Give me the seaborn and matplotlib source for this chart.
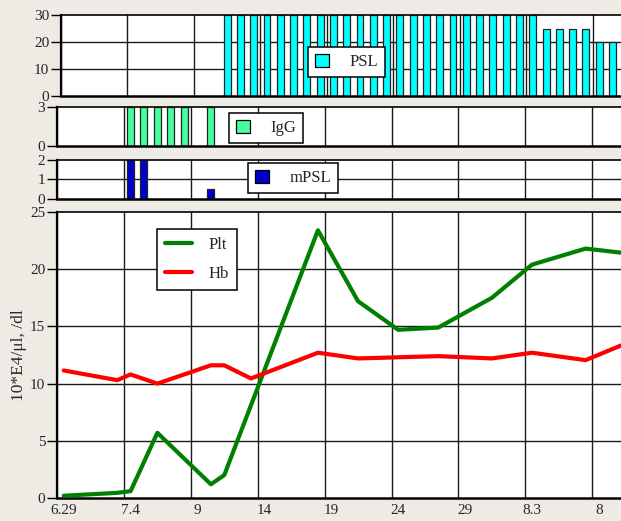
import matplotlib
matplotlib.use("Agg")
import matplotlib.pyplot as plt
from matplotlib.patches import Patch
from matplotlib.lines import Line2D
import seaborn as sns
import pandas as pd

# ---- data (day index counted from 6/29) ----
tick_days = [0, 5, 10, 15, 20, 25, 30, 35, 40]
tick_labels = ["6.29", "7.4", "9", "14", "19", "24", "29", "8.3", "8"]

psl_days = [12, 13, 14, 15, 16, 17, 18, 19, 20, 21, 22, 23, 24, 25, 26, 27,
            28, 29, 30, 31, 32, 33, 34, 35, 36, 37, 38, 39, 40, 41, 42]
psl_vals = [30, 30, 30, 30, 30, 30, 30, 30, 30, 30, 30, 30, 30, 30, 30, 30,
            30, 30, 30, 30, 30, 30, 30, 30, 25, 25, 25, 25, 20, 20, 20]

igg_days = [5, 6, 7, 8, 9, 11]
igg_vals = [3, 3, 3, 3, 3, 3]

mpsl_days = [5, 6, 11]
mpsl_vals = [2, 2, 0.5]

plt_days = [0, 4, 5, 7, 11, 12, 19, 22, 25, 28, 32, 35, 39, 42]
plt_vals = [0.2, 0.45, 0.6, 5.7, 1.2, 2.0, 23.4, 17.2, 14.7, 14.9, 17.5, 20.4, 21.8, 21.4]

hb_days = [0, 4, 5, 7, 11, 12, 14, 19, 22, 28, 32, 35, 39, 42]
hb_vals = [11.15, 10.3, 10.8, 10.0, 11.6, 11.6, 10.45, 12.7, 12.2, 12.4, 12.2, 12.7, 12.05, 13.5]

# ---- style ----
sns.set_style("white")
plt.rcParams["font.family"] = ["Liberation Serif", "DejaVu Serif"]
plt.rcParams["font.size"] = 11

W, H = 621, 521
BG = "#eeebe5"
GRID = "#1a1a1a"
fig = plt.figure(figsize=(W / 100, H / 100), dpi=100, facecolor=BG)


def rect(left, top, bottom):
    return [left / W, 1 - bottom / H, (W - left) / W, (bottom - top) / H]


ax_psl = fig.add_axes(rect(61, 15, 96))
ax_igg = fig.add_axes(rect(57, 107, 146))
ax_mpsl = fig.add_axes(rect(57, 160, 199))
ax = fig.add_axes(rect(57, 212, 498))


def style_axis(a, xmax, yticks, ylim, hgrid):
    a.set_facecolor("white")
    a.set_xlim(-0.5, xmax)
    a.set_ylim(*ylim)
    a.set_yticks(yticks)
    a.set_xticks([])
    a.set_xlabel("")
    a.set_ylabel("")
    a.grid(False)
    for d in tick_days:
        a.axvline(d - 0.5, color=GRID, lw=1.0, zorder=0.5)
    for v in hgrid:
        a.axhline(v, color=GRID, lw=1.0, zorder=0.5)
    a.tick_params(axis="y", which="major", direction="out", length=7, width=1,
                  color="black", pad=1.5, labelsize=11, left=True)
    a.tick_params(axis="x", which="both", length=0)
    a.spines["right"].set_visible(False)
    for s in ("left", "bottom", "top"):
        a.spines[s].set_color("black")
    a.spines["left"].set_linewidth(1.6)
    a.spines["bottom"].set_linewidth(1.8)
    a.spines["top"].set_linewidth(1.2)
    a.set_axisbelow(True)


def bar_panel(a, days, vals, color):
    sns.barplot(x=days, y=vals, native_scale=True, width=0.52, color=color,
                edgecolor="#222222", linewidth=0.9, errorbar=None,
                saturation=1, ax=a, zorder=2)


bar_panel(ax_psl, psl_days, psl_vals, "#00ffff")
style_axis(ax_psl, 41.64, [0, 10, 20, 30], (0, 30), [10, 20])

bar_panel(ax_igg, igg_days, igg_vals, "#44ff9e")
style_axis(ax_igg, 41.65, [0, 3], (0, 3), [])

bar_panel(ax_mpsl, mpsl_days, mpsl_vals, "#0000cc")
style_axis(ax_mpsl, 41.65, [0, 1, 2], (0, 2), [1])

# ---- main line panel ----
lines_df = pd.concat([
    pd.DataFrame({"day": plt_days, "value": plt_vals, "series": "Plt"}),
    pd.DataFrame({"day": hb_days, "value": hb_vals, "series": "Hb"}),
], ignore_index=True)

sns.lineplot(data=lines_df, x="day", y="value", hue="series",
             palette={"Plt": "#008000", "Hb": "#ff0000"}, linewidth=3.0,
             sort=False, legend=False, ax=ax, zorder=3)
style_axis(ax, 41.65, [0, 5, 10, 15, 20, 25], (0, 25), [5, 10, 15, 20])
ax.set_xticks(tick_days)
ax.set_xticklabels(tick_labels)
ax.tick_params(axis="x", which="major", length=0, pad=4, labelsize=11)
ax.set_ylabel("10*E4/μl, /dl", fontsize=12.5, labelpad=2)


def box_legend(a, handles, labels, x, y, **kw):
    leg = a.legend(handles, labels, loc="upper left",
                   bbox_to_anchor=(x / W, 1 - y / H), bbox_transform=fig.transFigure,
                   frameon=True, fancybox=False, framealpha=1, edgecolor="black",
                   facecolor="white", fontsize=12, borderaxespad=0, **kw)
    leg.get_frame().set_linewidth(1.1)
    leg.set_zorder(10)
    return leg


def swatch(color):
    return Patch(facecolor=color, edgecolor="black", linewidth=0.9)


sw_kw = dict(handlelength=0.85, handleheight=0.85, handletextpad=1.2, borderpad=0.42)
box_legend(ax_psl, [swatch("#00ffff")], ["PSL"], 308, 47, **sw_kw)
box_legend(ax_igg, [swatch("#44ff9e")], ["IgG"], 229, 113, **sw_kw)
box_legend(ax_mpsl, [swatch("#0000cc")], ["mPSL"], 248, 163, **sw_kw)
box_legend(ax,
           [Line2D([], [], color="#008000", lw=3), Line2D([], [], color="#ff0000", lw=3)],
           ["Plt", "Hb"], 157, 229,
           handlelength=1.6, handletextpad=1.0, labelspacing=0.75, borderpad=0.5)

fig.savefig("out.png", dpi=100, facecolor=BG)
